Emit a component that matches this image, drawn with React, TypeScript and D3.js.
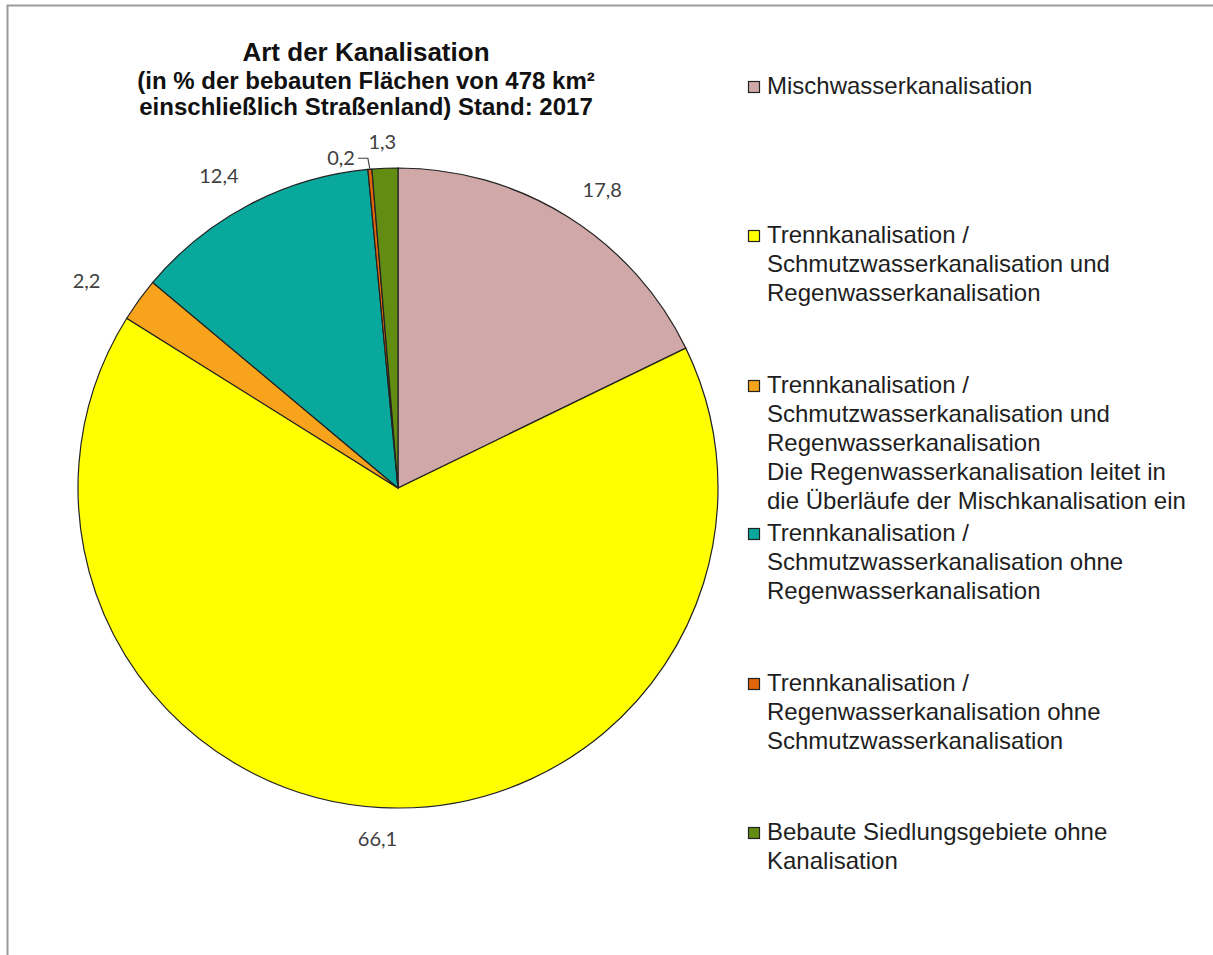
import * as d3 from "d3";
import React, { useRef, useEffect } from "react";

// chart data
const categories = [
  "Mischwasserkanalisation",
  "Trennkanalisation / Schmutzwasserkanalisation und Regenwasserkanalisation",
  "Trennkanalisation / Schmutzwasserkanalisation und Regenwasserkanalisation Die Regenwasserkanalisation leitet in die Überläufe der Mischkanalisation ein",
  "Trennkanalisation / Schmutzwasserkanalisation ohne Regenwasserkanalisation",
  "Trennkanalisation / Regenwasserkanalisation ohne Schmutzwasserkanalisation",
  "Bebaute Siedlungsgebiete ohne Kanalisation",
];
const values = [17.8, 66.1, 2.2, 12.4, 0.2, 1.3];
const colors = ["#D0A8A8", "#FFFF00", "#F7A31B", "#09A89C", "#E2650C", "#628C12"];

// legend text, broken into lines like the original
const legendLines = [
  ["Mischwasserkanalisation"],
  ["Trennkanalisation /", "Schmutzwasserkanalisation und", "Regenwasserkanalisation"],
  [
    "Trennkanalisation /",
    "Schmutzwasserkanalisation und",
    "Regenwasserkanalisation",
    "Die Regenwasserkanalisation leitet in",
    "die Überläufe der Mischkanalisation ein",
  ],
  ["Trennkanalisation /", "Schmutzwasserkanalisation ohne", "Regenwasserkanalisation"],
  ["Trennkanalisation /", "Regenwasserkanalisation ohne", "Schmutzwasserkanalisation"],
  ["Bebaute Siedlungsgebiete ohne", "Kanalisation"],
];

const titleLines = [
  "Art der Kanalisation",
  "(in % der bebauten Flächen von 478 km²",
  "einschließlich Straßenland) Stand: 2017",
];

function App() {
  const svgRef = useRef(null);

  useEffect(() => {
    const svg = d3.select(svgRef.current);
    svg.selectAll("*").remove();

    const width = 1213;
    const height = 955;
    const cx = 398;
    const cy = 488;
    const radius = 320;

    // outer frame (only top and left edges visible)
    svg
      .append("rect")
      .attr("x", 7.5)
      .attr("y", 5.5)
      .attr("width", width + 20)
      .attr("height", height + 20)
      .attr("fill", "#fff")
      .attr("stroke", "#9c9c9c")
      .attr("stroke-width", 2);

    // title
    const title = svg
      .append("text")
      .attr("text-anchor", "middle")
      .attr("font-family", "'Liberation Sans', Arial, sans-serif")
      .attr("font-weight", "bold")
      .attr("fill", "#111");
    const titleY = [61, 89, 115];
    titleLines.forEach((t, i) => {
      title
        .append("tspan")
        .attr("x", 366)
        .attr("y", titleY[i])
        .attr("font-size", i === 0 ? 26 : 24)
        .text(t);
    });

    // pie
    const pie = d3
      .pie<number>()
      .sort(null)
      .value((d) => d)
      .startAngle(0)
      .endAngle(2 * Math.PI);
    const arc = d3.arc<d3.PieArcDatum<number>>().innerRadius(0).outerRadius(radius);
    const arcsData = pie(values);

    const g = svg.append("g").attr("transform", `translate(${cx}, ${cy})`);
    g.selectAll("path")
      .data(arcsData)
      .enter()
      .append("path")
      .attr("d", arc)
      .attr("fill", (d, i) => colors[i])
      .attr("stroke", "#222")
      .attr("stroke-width", 1.2);

    // data labels (outside end, roughly elliptical placement like Excel)
    const rx = 385;
    const ry = 352;
    const fmt = (v: number) => v.toFixed(1).replace(".", ",");
    arcsData.forEach((d, i) => {
      const mid = (d.startAngle + d.endAngle) / 2;
      const s = Math.sin(mid);
      const c = Math.cos(mid);
      let lx = s * rx;
      let ly = -c * ry;
      let anchor = "middle";
      if (d.value < 0.5) {
        // tiny slice: label pushed left with a leader line
        const px = s * radius;
        const py = -c * radius;
        lx = px - 15;
        ly = py - 11;
        anchor = "end";
        g.append("path")
          .attr("d", `M${lx + 3},${ly} H${px - 2} L${px},${py}`)
          .attr("fill", "none")
          .attr("stroke", "#404040")
          .attr("stroke-width", 1.2);
      } else if (d.value < 2) {
        ly = ly + 6;
      }
      g.append("text")
        .attr("x", lx)
        .attr("y", ly)
        .attr("dy", "0.35em")
        .attr("text-anchor", anchor)
        .attr("font-family", "Lato, 'Open Sans', sans-serif")
        .attr("font-size", 20)
        .attr("fill", "#404040")
        .text(fmt(d.value));
    });

    // legend
    const legendBase = [94, 243, 393, 541, 691, 840];
    const lineH = 29;
    const legend = svg.append("g");
    categories.forEach((cat, i) => {
      const y0 = legendBase[i];
      legend
        .append("rect")
        .attr("x", 748.5)
        .attr("y", y0 - 12.5)
        .attr("width", 11)
        .attr("height", 11)
        .attr("fill", colors[i])
        .attr("stroke", "#222")
        .attr("stroke-width", 1.2);
      const txt = legend
        .append("text")
        .attr("font-family", "'Liberation Sans', Arial, sans-serif")
        .attr("font-size", 24)
        .attr("fill", "#1e1e1e");
      legendLines[i].forEach((line, j) => {
        txt
          .append("tspan")
          .attr("x", 767)
          .attr("y", y0 + j * lineH)
          .text(line);
      });
    });
  });

  return (
    <svg
      ref={svgRef}
      width={1213}
      height={955}
      style={{ position: "absolute", left: 0, top: 0, background: "#fff" }}
    />
  );
}

export default App;
